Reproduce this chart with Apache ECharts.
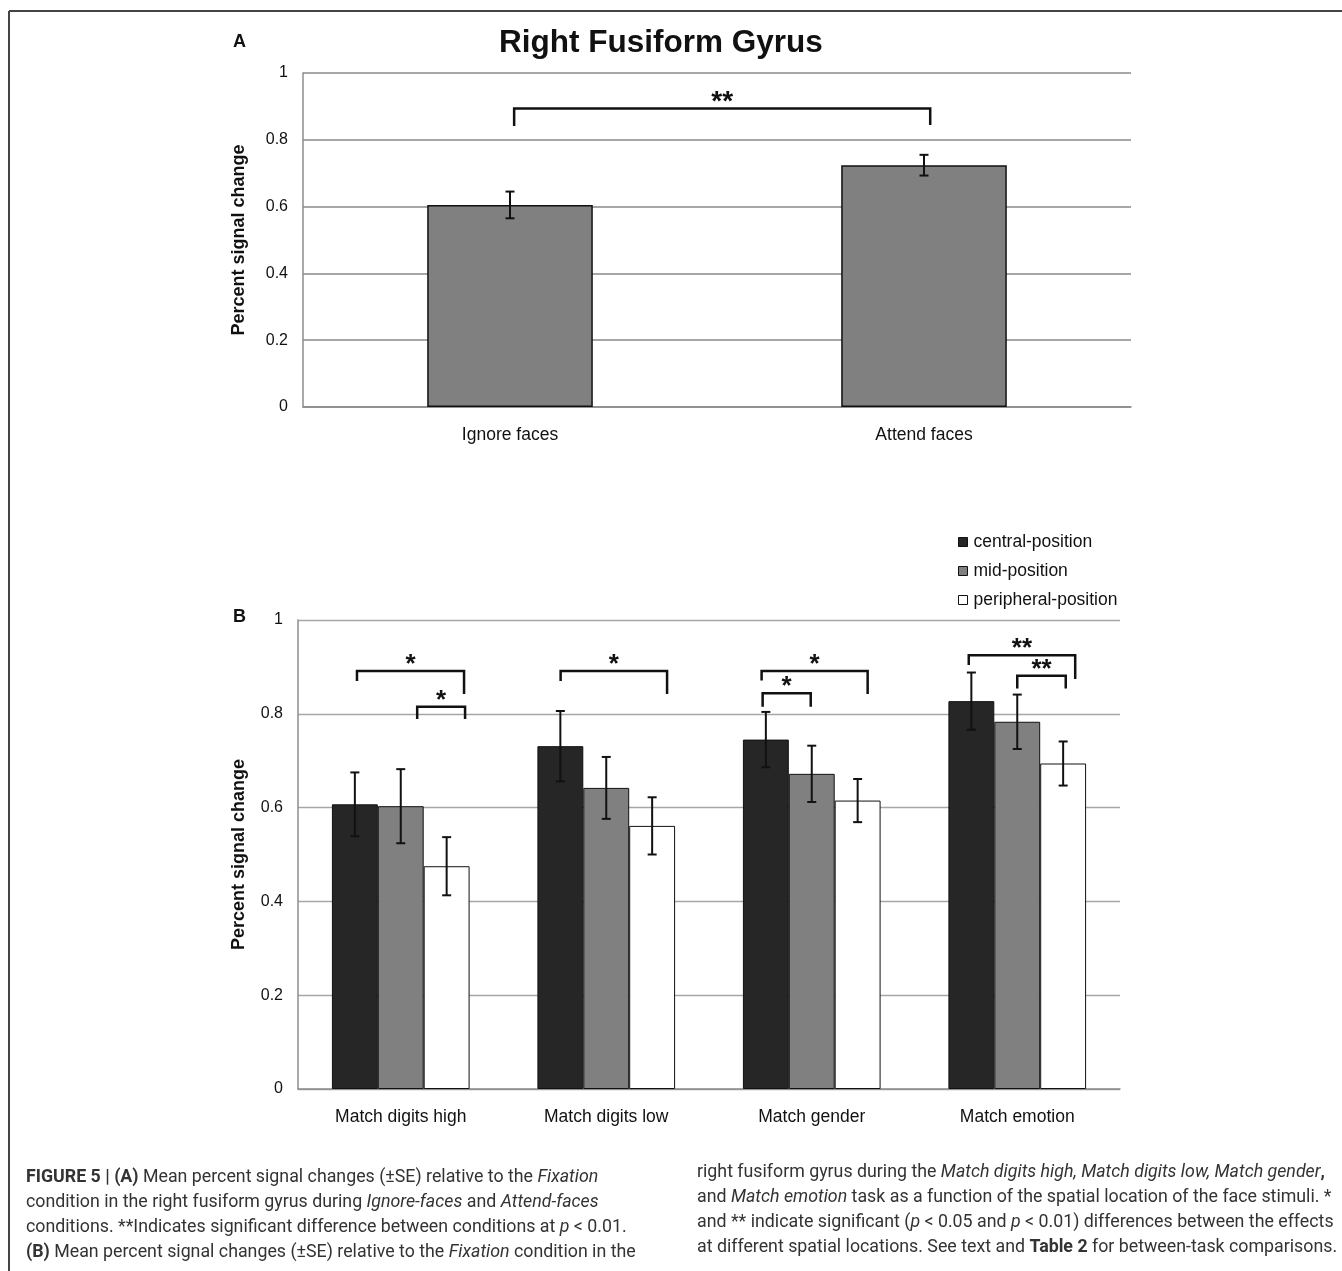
<!DOCTYPE html>
<html>
<head>
<meta charset="utf-8">
<title>Right Fusiform Gyrus</title>
<script src="https://cdn.jsdelivr.net/npm/echarts@6/dist/echarts.min.js"></script>
<style>
    html, body { margin: 0; padding: 0; background: #fff; }
    #main { width: 1342px; height: 1271px; }
</style>
</head>
<body>
<div id="main"></div>
<script>
// panel A data
const catsA = ['Ignore faces', 'Attend faces'];
const valsA = [0.605, 0.724];
const errA = [0.040, 0.031];

// panel B data
const catsB = ['Match digits high', 'Match digits low', 'Match gender', 'Match emotion'];
const seriesNames = ['central-position', 'mid-position', 'peripheral-position'];
const central = [0.607, 0.731, 0.745, 0.827];
const centralErr = [0.068, 0.075, 0.059, 0.061];
const mid = [0.603, 0.642, 0.672, 0.783];
const midErr = [0.079, 0.066, 0.060, 0.058];
const peripheral = [0.475, 0.561, 0.615, 0.694];
const peripheralErr = [0.062, 0.061, 0.046, 0.047];

const yTicks = [0, 0.2, 0.4, 0.6, 0.8, 1];

// significance brackets: [cat left, offset left, cat right, offset right, top, left end, right end]
const bracketsA = [[0, 0.010, 1, 0.015, 0.894, 0.841, 0.844]];
const bracketLabelsA = ['**'];
const bracketsB = [
    [0, -0.213, 0, 0.308, 0.891, 0.870, 0.842],
    [0, 0.080, 0, 0.313, 0.815, 0.789, 0.789],
    [1, -0.222, 1, 0.296, 0.891, 0.870, 0.842],
    [2, -0.244, 2, 0.272, 0.891, 0.871, 0.842],
    [2, -0.239, 2, -0.005, 0.844, 0.815, 0.815],
    [3, -0.236, 3, 0.282, 0.925, 0.904, 0.874],
    [3, 0.000, 3, 0.236, 0.881, 0.854, 0.854]
];
const bracketLabelsB = ['*', '*', '*', '*', '*', '**', '**'];

const FONT = 'Liberation Sans, Arial, sans-serif';
const CAP_FONT = 'Roboto, Liberation Sans, sans-serif';

const chart = echarts.init(document.getElementById('main'));

// error bars drawn on the bar slots
function errorSeries(gridIdx, vals, errs, slot, nSlots, gapFrac) {
    const barFrac = (1 - gapFrac) / nSlots;
    return {
        type: 'custom',
        xAxisIndex: gridIdx,
        yAxisIndex: gridIdx,
        silent: true,
        z: 5,
        data: vals.map((v, i) => [i, v, errs[i]]),
        encode: { x: 0, y: 1 },
        renderItem: function (params, api) {
            const catW = api.size([1, 0])[0];
            const off = (slot - (nSlots - 1) / 2) * barFrac * catW;
            const v = api.value(1), e = api.value(2);
            const x = api.coord([api.value(0), v])[0] + off;
            const yHi = api.coord([0, v + e])[1];
            const yLo = api.coord([0, v - e])[1];
            const c = 4.5;
            const st = { stroke: '#111', lineWidth: 2 };
            return {
                type: 'group',
                children: [
                    { type: 'line', shape: { x1: x, y1: yHi, x2: x, y2: yLo }, style: st },
                    { type: 'line', shape: { x1: x - c, y1: yHi, x2: x + c, y2: yHi }, style: st },
                    { type: 'line', shape: { x1: x - c, y1: yLo, x2: x + c, y2: yLo }, style: st }
                ]
            };
        }
    };
}

// brackets with stars
function bracketSeries(gridIdx, rows, labels, starSize) {
    return {
        type: 'custom',
        xAxisIndex: gridIdx,
        yAxisIndex: gridIdx,
        silent: true,
        z: 6,
        data: rows,
        encode: { x: 0, y: 4 },
        renderItem: function (params, api) {
            const catW = api.size([1, 0])[0];
            const xL = api.coord([api.value(0), 0])[0] + api.value(1) * catW;
            const xR = api.coord([api.value(2), 0])[0] + api.value(3) * catW;
            const yTop = api.coord([0, api.value(4)])[1];
            const yL = api.coord([0, api.value(5)])[1];
            const yR = api.coord([0, api.value(6)])[1];
            return {
                type: 'group',
                children: [
                    {
                        type: 'polyline',
                        shape: { points: [[xL, yL], [xL, yTop], [xR, yTop], [xR, yR]] },
                        style: { stroke: '#111', lineWidth: 2.5, fill: null }
                    },
                    {
                        type: 'text',
                        style: {
                            text: labels[params.dataIndex],
                            x: (xL + xR) / 2,
                            y: yTop - 6,
                            align: 'center',
                            verticalAlign: 'middle',
                            font: 'bold ' + starSize + 'px ' + FONT,
                            fill: '#111'
                        }
                    }
                ]
            };
        }
    };
}

function yAxisOpt(gridIdx, nameGap, splitW) {
    return {
        gridIndex: gridIdx,
        type: 'value',
        min: yTicks[0],
        max: yTicks[yTicks.length - 1],
        interval: 0.2,
        name: 'Percent signal change',
        nameLocation: 'middle',
        nameGap: nameGap,
        nameTextStyle: { fontFamily: FONT, fontWeight: 'bold', fontSize: 18, color: '#111' },
        axisLine: { show: true, lineStyle: { color: '#8c8c8c', width: 1.5 } },
        axisTick: { show: false },
        axisLabel: { fontFamily: FONT, fontSize: 16, color: '#111', margin: 15 },
        splitLine: { show: true, lineStyle: { color: '#a6a6a6', width: splitW } }
    };
}

function xAxisOpt(gridIdx, cats) {
    return {
        gridIndex: gridIdx,
        type: 'category',
        data: cats,
        axisLine: { show: true, lineStyle: { color: '#8c8c8c', width: 1.5 } },
        axisTick: { show: false },
        axisLabel: { fontFamily: FONT, fontSize: 17.5, color: '#111', margin: 19 }
    };
}

const CAP_SIZE = 17.8;
const capStyle = {
    fontFamily: CAP_FONT,
    fontSize: CAP_SIZE,
    fill: '#333',
    rich: {
        b: { fontFamily: CAP_FONT, fontSize: CAP_SIZE, fontWeight: 'bold', color: '#222' },
        i: { fontFamily: CAP_FONT, fontSize: CAP_SIZE, fontStyle: 'italic', color: '#333' }
    }
};
const capLeft = [
    '{b|FIGURE 5 | (A)} Mean percent signal changes (±SE) relative to the {i|Fixation}',
    'condition in the right fusiform gyrus during {i|Ignore-faces} and {i|Attend-faces}',
    'conditions. **Indicates significant difference between conditions at {i|p} < 0.01.',
    '{b|(B)} Mean percent signal changes (±SE) relative to the {i|Fixation} condition in the'
];
const capRight = [
    'right fusiform gyrus during the {i|Match digits high, Match digits low, Match gender}{b|,}',
    'and {i|Match emotion} task as a function of the spatial location of the face stimuli. *',
    'and ** indicate significant ({i|p} < 0.05 and {i|p} < 0.01) differences between the effects',
    'at different spatial locations. See text and {b|Table 2} for between-task comparisons.'
];

const graphics = [
    { type: 'line', shape: { x1: 9, y1: 11, x2: 1342, y2: 11 }, style: { stroke: '#444', lineWidth: 2 } },
    { type: 'line', shape: { x1: 9, y1: 11, x2: 9, y2: 1271 }, style: { stroke: '#444', lineWidth: 2 } },
    { type: 'text', left: 233, top: 33, style: { text: 'A', font: 'bold 18px ' + FONT, fill: '#111' } },
    { type: 'text', left: 233, top: 608, style: { text: 'B', font: 'bold 18px ' + FONT, fill: '#111' } }
];
capLeft.forEach(function (t, i) {
    graphics.push({ type: 'text', left: 26, top: 1169 + i * 25, style: Object.assign({ text: t }, capStyle) });
});
capRight.forEach(function (t, i) {
    graphics.push({ type: 'text', left: 697, top: 1164 + i * 25, style: Object.assign({ text: t }, capStyle) });
});

const barB = (name, vals, color) => ({
    name: name,
    type: 'bar',
    xAxisIndex: 1,
    yAxisIndex: 1,
    data: vals,
    barGap: '0%',
    barCategoryGap: '33%',
    itemStyle: { color: color, borderColor: '#111', borderWidth: 1 }
});

const option = {
    animation: false,
    backgroundColor: '#fff',
    title: {
        text: 'Right Fusiform Gyrus',
        left: 656,
        top: 22,
        textAlign: 'center',
        textStyle: { fontFamily: FONT, fontWeight: 'bold', fontSize: 31.5, color: '#111' }
    },
    legend: {
        orient: 'vertical',
        left: 958,
        top: 533,
        padding: 0,
        itemGap: 11,
        itemWidth: 9,
        itemHeight: 9,
        icon: 'rect',
        textStyle: { fontFamily: FONT, fontSize: 17.5, color: '#111', padding: [0, 0, 0, 1] },
        data: seriesNames.map((n, i) => ({
            name: n,
            itemStyle: { color: ['#262626', '#808080', '#ffffff'][i], borderColor: '#111', borderWidth: 1 }
        }))
    },
    grid: [
        { left: 303, top: 73, width: 828, height: 334 },
        { left: 298, top: 620, width: 822, height: 469 }
    ],
    xAxis: [xAxisOpt(0, catsA), xAxisOpt(1, catsB)],
    yAxis: [yAxisOpt(0, 55, 1.8), yAxisOpt(1, 50, 1.3)],
    graphic: graphics,
    series: [
        {
            type: 'bar',
            xAxisIndex: 0,
            yAxisIndex: 0,
            data: valsA,
            barCategoryGap: '60%',
            itemStyle: { color: '#808080', borderColor: '#111', borderWidth: 1.5 }
        },
        errorSeries(0, valsA, errA, 0, 1, 0.6),
        bracketSeries(0, bracketsA, bracketLabelsA, 28),
        barB(seriesNames[0], central, '#262626'),
        barB(seriesNames[1], mid, '#808080'),
        barB(seriesNames[2], peripheral, '#ffffff'),
        errorSeries(1, central, centralErr, 0, 3, 0.33),
        errorSeries(1, mid, midErr, 1, 3, 0.33),
        errorSeries(1, peripheral, peripheralErr, 2, 3, 0.33),
        bracketSeries(1, bracketsB, bracketLabelsB, 26)
    ]
};

chart.setOption(option);
</script>
</body>
</html>
